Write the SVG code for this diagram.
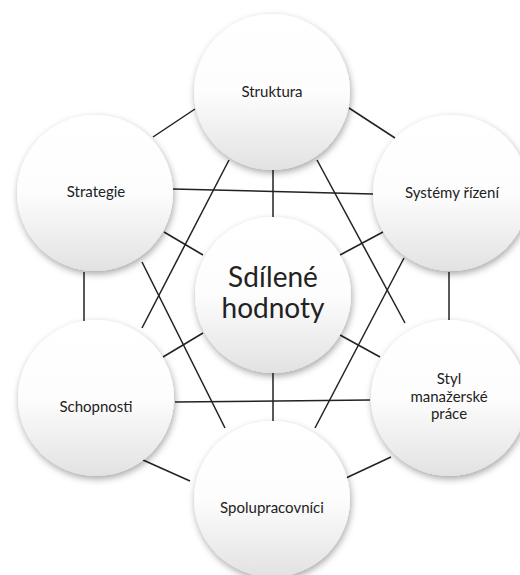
<svg xmlns="http://www.w3.org/2000/svg" width="520" height="575" viewBox="0 0 520 575">
<defs>
<linearGradient id="fill" x1="0" y1="0" x2="0" y2="1">
<stop offset="0" stop-color="#ffffff"/>
<stop offset="0.5" stop-color="#fdfdfd"/>
<stop offset="1" stop-color="#e2e2e2"/>
</linearGradient>
<filter id="shadow" x="-30%" y="-30%" width="160%" height="160%">
<feDropShadow dx="1" dy="3" stdDeviation="3.5" flood-color="#000" flood-opacity="0.35"/>
</filter>
</defs>
<style>
.node circle { fill: url(#fill); filter: url(#shadow); }
.lbl { font-family: Lato, "Open Sans", "Liberation Sans", sans-serif; font-size: 15px; fill: #222; text-anchor: middle; }
.big { font-size: 28px; }
#connectors line { stroke: #222; stroke-width: 1.5; fill: none; }
</style>
<rect width="520" height="575" fill="#ffffff"/>
<g id="connectors">
<line x1="153" y1="137" x2="195" y2="109"/>
<line x1="349" y1="108" x2="395" y2="138"/>
<line x1="84" y1="272" x2="84" y2="322"/>
<line x1="449" y1="272" x2="449" y2="320"/>
<line x1="143" y1="460" x2="190" y2="481"/>
<line x1="346" y1="478" x2="391" y2="457"/>
<line x1="173" y1="189" x2="373" y2="194"/>
<line x1="175" y1="402" x2="370" y2="400"/>
<line x1="273" y1="170" x2="273" y2="217"/>
<line x1="273" y1="373" x2="273" y2="421"/>
<line x1="164" y1="232" x2="203" y2="255"/>
<line x1="340" y1="255" x2="383" y2="232"/>
<line x1="163" y1="357" x2="203" y2="333"/>
<line x1="340" y1="335" x2="380" y2="357"/>
<line x1="229" y1="160" x2="142" y2="328"/>
<line x1="317" y1="160" x2="405" y2="323"/>
<line x1="142" y1="262" x2="225" y2="428"/>
<line x1="404" y1="258" x2="315" y2="428"/>
</g>
<g id="node-struktura" class="node">
<circle cx="272" cy="92" r="78"/>
<text class="lbl" x="272" y="97">Struktura</text>
</g>
<g id="node-strategie" class="node">
<circle cx="95" cy="193" r="78"/>
<text class="lbl" x="96" y="197">Strategie</text>
</g>
<g id="node-systemy" class="node">
<circle cx="451" cy="193" r="78"/>
<text class="lbl" x="452" y="198">Systémy řízení</text>
</g>
<g id="node-sdilene" class="node">
<circle cx="273" cy="295" r="78"/>
<text class="lbl big" x="273" y="287">Sdílené</text>
<text class="lbl big" x="273" y="318">hodnoty</text>
</g>
<g id="node-schopnosti" class="node">
<circle cx="96" cy="398" r="78"/>
<text class="lbl" x="96" y="412">Schopnosti</text>
</g>
<g id="node-styl" class="node">
<circle cx="449" cy="398" r="78"/>
<text class="lbl" x="449" y="384">Styl</text>
<text class="lbl" x="449" y="402">manažerské</text>
<text class="lbl" x="449" y="419">práce</text>
</g>
<g id="node-spolupracovnici" class="node">
<circle cx="272" cy="499" r="78"/>
<text class="lbl" x="272" y="513">Spolupracovníci</text>
</g>
</svg>
